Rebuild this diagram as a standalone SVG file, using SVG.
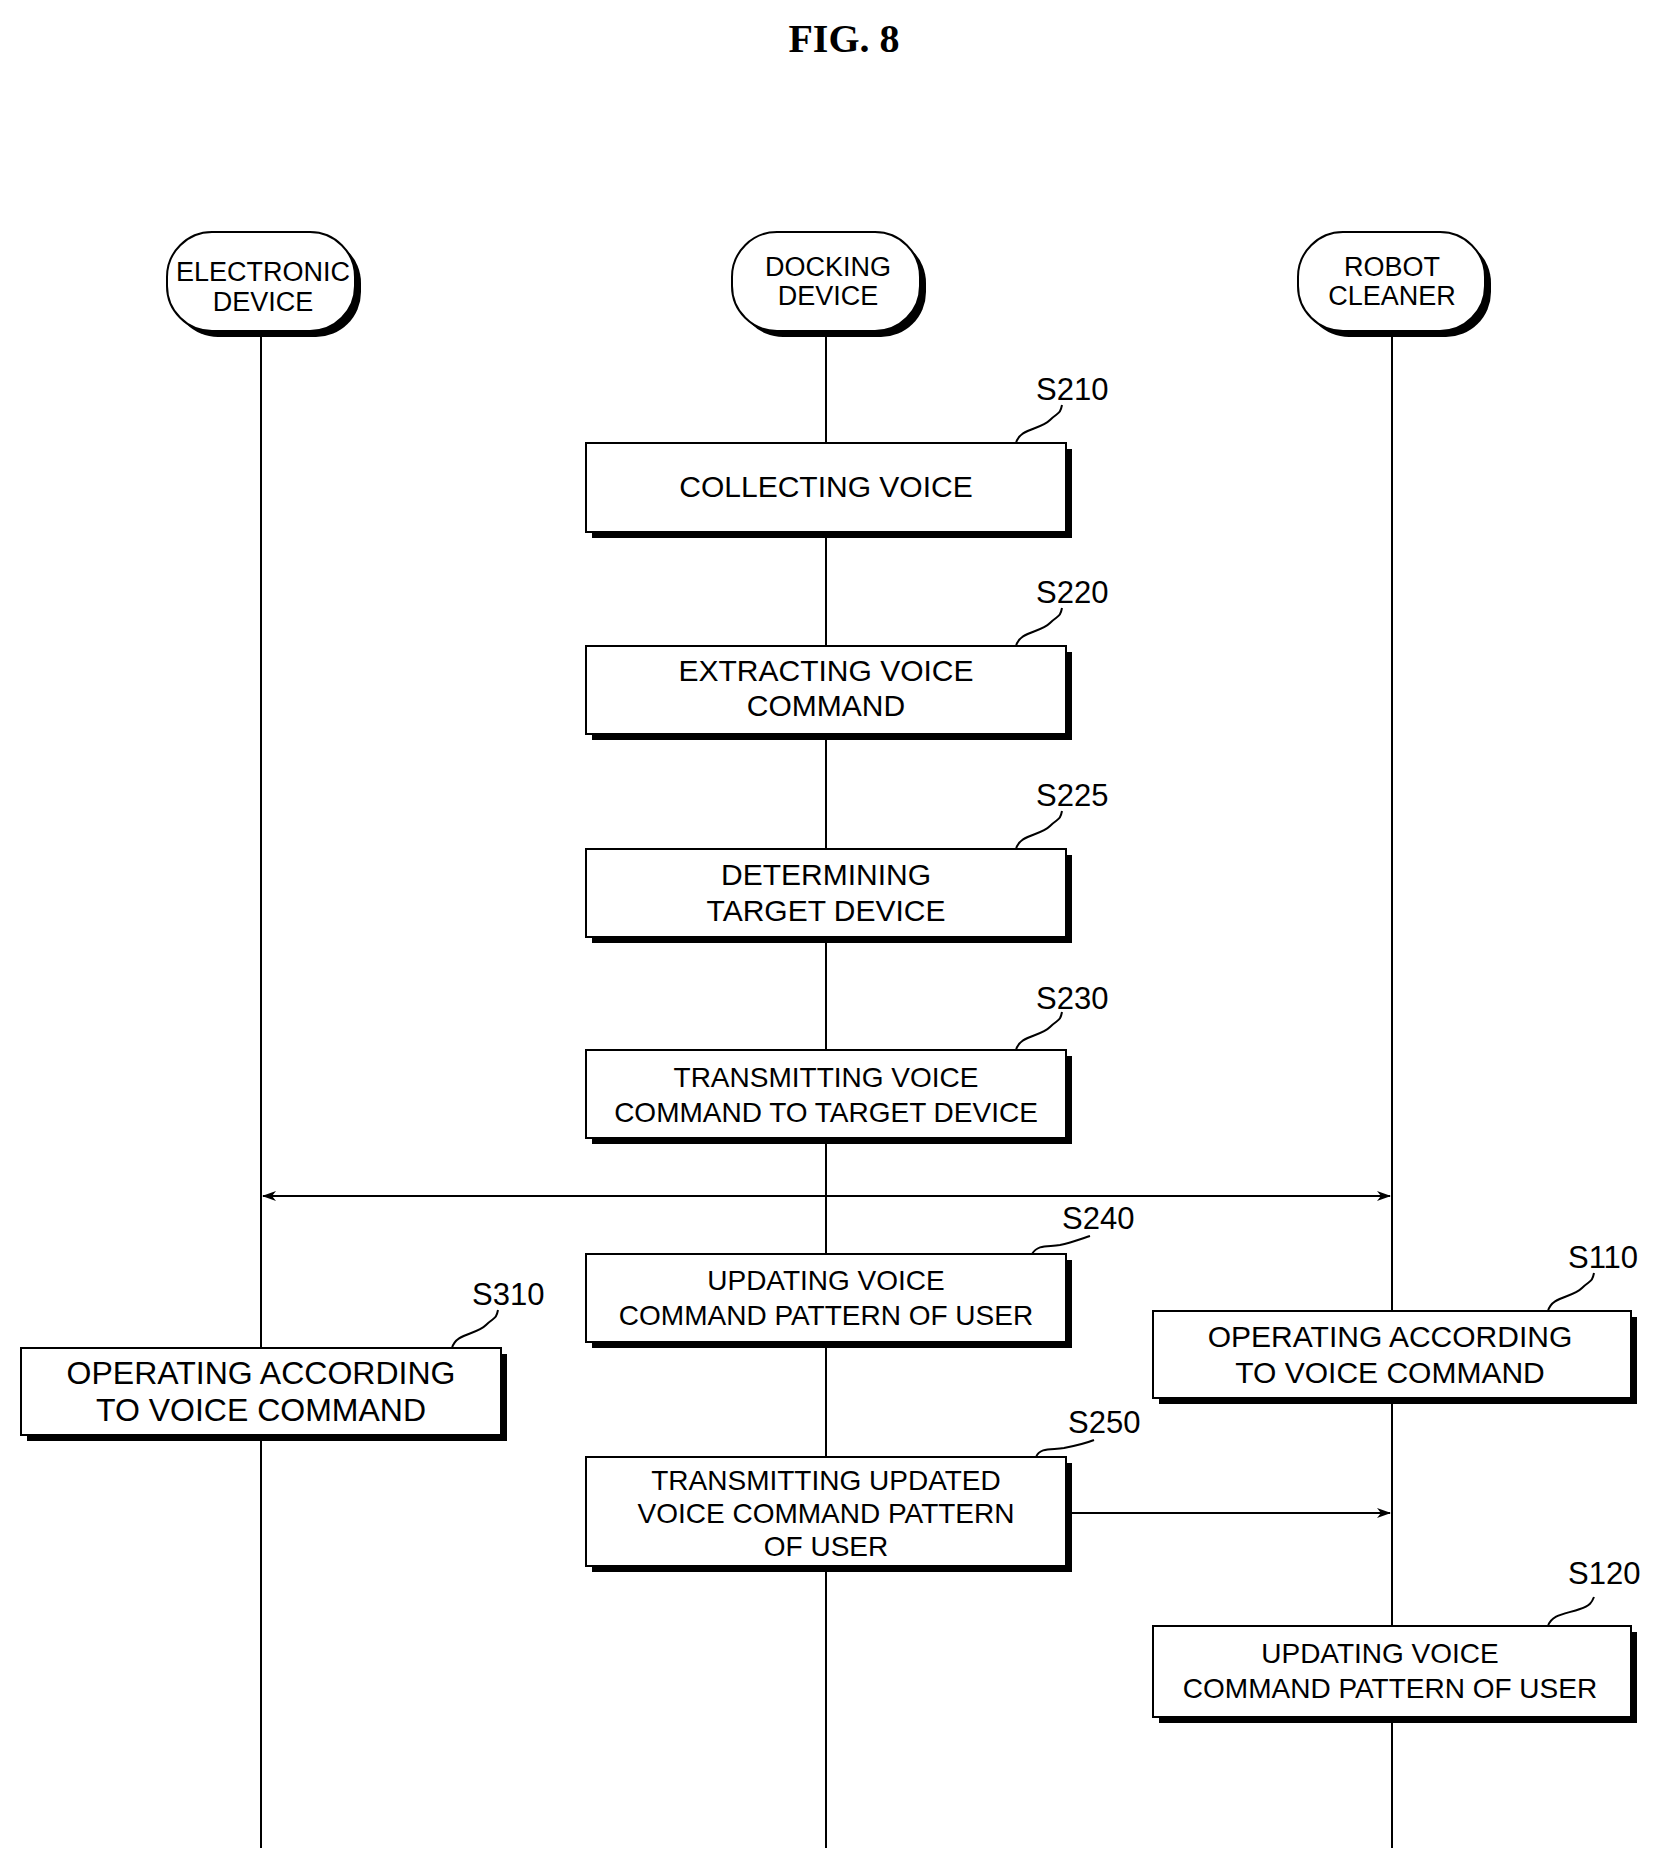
<svg xmlns="http://www.w3.org/2000/svg" width="1657" height="1858" viewBox="0 0 1657 1858">
<defs>
<style>
.t{font-family:"Liberation Sans",Arial,sans-serif;font-size:30px;text-anchor:middle;fill:#000}
.l{font-family:"Liberation Sans",Arial,sans-serif;font-size:31px;fill:#000}
.b{fill:#fff;stroke:#000;stroke-width:2}
.s{fill:#000}
.ln{stroke:#000;stroke-width:2;fill:none}
</style>
<marker id="ah" markerWidth="14" markerHeight="10" refX="13" refY="5" orient="auto-start-reverse" markerUnits="userSpaceOnUse"><path d="M0,0 L14,5 L0,10 L4,5 Z" fill="#000"/></marker>
</defs>
<rect width="1657" height="1858" fill="#fff"/>
<text x="844" y="52" style="font-family:'Liberation Serif',serif;font-size:40px;font-weight:bold;text-anchor:middle">FIG. 8</text>
<g id="connectors">
<line class="ln" x1="261" y1="331" x2="261" y2="1848"/>
<line class="ln" x1="826" y1="331" x2="826" y2="1848"/>
<line class="ln" x1="1392" y1="331" x2="1392" y2="1848"/>
<line class="ln" x1="263" y1="1196" x2="1390" y2="1196" marker-start="url(#ah)" marker-end="url(#ah)"/>
<line class="ln" x1="1072" y1="1513" x2="1390" y2="1513" marker-end="url(#ah)"/>
</g>
<g id="electronic">
<rect class="s" x="173" y="238" width="188" height="99" rx="45"/>
<rect class="b" x="167" y="232" width="188" height="99" rx="45"/>
<text class="t" x="263" y="281" style="font-size:27px">ELECTRONIC</text>
<text class="t" x="263" y="311" style="font-size:27px">DEVICE</text>
</g>
<g id="docking">
<rect class="s" x="738" y="238" width="188" height="99" rx="45"/>
<rect class="b" x="732" y="232" width="188" height="99" rx="45"/>
<text class="t" x="828" y="276" style="font-size:27px">DOCKING</text>
<text class="t" x="828" y="305" style="font-size:27px">DEVICE</text>
</g>
<g id="robot">
<rect class="s" x="1304" y="238" width="187" height="99" rx="45"/>
<rect class="b" x="1298" y="232" width="187" height="99" rx="45"/>
<text class="t" x="1392" y="276" style="font-size:27px">ROBOT</text>
<text class="t" x="1392" y="305" style="font-size:27px">CLEANER</text>
</g>
<g id="s210">
<rect class="s" x="592" y="449" width="480" height="89"/>
<rect class="b" x="586" y="443" width="480" height="89"/>
<text class="t" x="826" y="497">COLLECTING VOICE</text>
<text class="l" x="1036" y="400">S210</text>
<path class="ln" d="M1016,443 C1020,428 1040,430 1050,420 C1058,412 1060,415 1062,405"/>
</g>
<g id="s220">
<rect class="s" x="592" y="652" width="480" height="88"/>
<rect class="b" x="586" y="646" width="480" height="88"/>
<text class="t" x="826" y="681">EXTRACTING VOICE</text>
<text class="t" x="826" y="716">COMMAND</text>
<text class="l" x="1036" y="603">S220</text>
<path class="ln" d="M1016,646 C1020,631 1040,633 1050,623 C1058,615 1060,618 1062,608"/>
</g>
<g id="s225">
<rect class="s" x="592" y="855" width="480" height="88"/>
<rect class="b" x="586" y="849" width="480" height="88"/>
<text class="t" x="826" y="885">DETERMINING</text>
<text class="t" x="826" y="921">TARGET DEVICE</text>
<text class="l" x="1036" y="806">S225</text>
<path class="ln" d="M1016,849 C1020,834 1040,836 1050,826 C1058,818 1060,821 1062,811"/>
</g>
<g id="s230">
<rect class="s" x="592" y="1056" width="480" height="88"/>
<rect class="b" x="586" y="1050" width="480" height="88"/>
<text class="t" x="826" y="1087" style="font-size:28px">TRANSMITTING VOICE</text>
<text class="t" x="826" y="1122" style="font-size:28px">COMMAND TO TARGET DEVICE</text>
<text class="l" x="1036" y="1009">S230</text>
<path class="ln" d="M1016,1050 C1020,1035 1040,1037 1050,1027 C1058,1019 1060,1022 1062,1012"/>
</g>
<g id="s240">
<rect class="s" x="592" y="1260" width="480" height="88"/>
<rect class="b" x="586" y="1254" width="480" height="88"/>
<text class="t" x="826" y="1290" style="font-size:28px">UPDATING VOICE</text>
<text class="t" x="826" y="1325" style="font-size:28px">COMMAND PATTERN OF USER</text>
<text class="l" x="1062" y="1229">S240</text>
<path class="ln" d="M1032,1254 C1038,1244 1048,1247 1060,1245 C1070,1243 1078,1240 1090,1236"/>
</g>
<g id="s310">
<rect class="s" x="27" y="1354" width="480" height="87"/>
<rect class="b" x="21" y="1348" width="480" height="87"/>
<text class="t" x="261" y="1384" style="font-size:32px">OPERATING ACCORDING</text>
<text class="t" x="261" y="1421" style="font-size:32px">TO VOICE COMMAND</text>
<text class="l" x="472" y="1305">S310</text>
<path class="ln" d="M452,1348 C456,1333 476,1335 486,1325 C494,1317 496,1320 498,1310"/>
</g>
<g id="s110">
<rect class="s" x="1159" y="1317" width="478" height="87"/>
<rect class="b" x="1153" y="1311" width="478" height="87"/>
<text class="t" x="1390" y="1347" style="font-size:30px">OPERATING ACCORDING</text>
<text class="t" x="1390" y="1383" style="font-size:30px">TO VOICE COMMAND</text>
<text class="l" x="1568" y="1268">S110</text>
<path class="ln" d="M1548,1311 C1552,1296 1572,1298 1582,1288 C1590,1280 1592,1283 1594,1273"/>
</g>
<g id="s250">
<rect class="s" x="592" y="1463" width="480" height="109"/>
<rect class="b" x="586" y="1457" width="480" height="109"/>
<text class="t" x="826" y="1490" style="font-size:28px">TRANSMITTING UPDATED</text>
<text class="t" x="826" y="1523" style="font-size:28px">VOICE COMMAND PATTERN</text>
<text class="t" x="826" y="1556" style="font-size:28px">OF USER</text>
<text class="l" x="1068" y="1433">S250</text>
<path class="ln" d="M1036,1457 C1040,1447 1052,1450 1064,1448 C1074,1446 1084,1444 1094,1440"/>
</g>
<g id="s120">
<rect class="s" x="1159" y="1632" width="478" height="91"/>
<rect class="b" x="1153" y="1626" width="478" height="91"/>
<text class="t" x="1380" y="1663" style="font-size:28px">UPDATING VOICE</text>
<text class="t" x="1390" y="1698" style="font-size:28px">COMMAND PATTERN OF USER</text>
<text class="l" x="1568" y="1584">S120</text>
<path class="ln" d="M1548,1626 C1552,1614 1566,1614 1580,1609 C1590,1606 1592,1602 1594,1597"/>
</g>
</svg>
